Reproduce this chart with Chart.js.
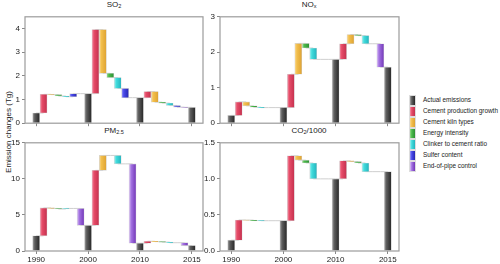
<!DOCTYPE html>
<html>
<head>
<meta charset="utf-8">
<script src="https://cdn.jsdelivr.net/npm/chart.js@4.4.1/dist/chart.umd.min.js"></script>
<style>
  body { margin: 0; width: 500px; height: 264px; background: #fff; position: relative; overflow: hidden;
         font-family: "Liberation Sans", Arial, sans-serif; color: #222 }
  canvas, .ttl, .ytitle, .legend { position: absolute }
  .ttl { font-size: 8px; transform: translateX(-50%); white-space: nowrap; line-height: 1 }
  .ttl sub { font-size: 5.5px; vertical-align: -1px }
  .ytitle { font-size: 8px; white-space: nowrap; transform: translate(-50%, -50%) rotate(-90deg); left: 8px; top: 132px }
  .legend { left: 409px; top: 95px; font-size: 6.4px }
  .legend .row { position: relative; height: 11px; line-height: 11px }
  .legend .sw { position: absolute; left: 0; top: 0; width: 7px; height: 11px; box-sizing: border-box; border: 0.5px solid #ddd }
  .legend .lb { position: absolute; left: 14px; top: -1px; white-space: nowrap }
</style>
</head>
<body>
<div class="ytitle">Emission changes (Tg)</div>
<div class="ttl" style="left:114px;top:1px">SO<sub>2</sub></div>
<div class="ttl" style="left:309px;top:1px">NO<sub>x</sub></div>
<div class="ttl" style="left:114px;top:127px">PM<sub>2.5</sub></div>
<div class="ttl" style="left:309px;top:127px">CO<sub>2</sub>/1000</div>
<div class="legend" id="legend"></div>

<canvas id="so2"></canvas>
<canvas id="nox"></canvas>
<canvas id="pm"></canvas>
<canvas id="co2"></canvas>

<script>
// tick labels on the x axis
const years = ['1990', '2000', '2010', '2015']
const legendNames = ['Actual emissions', 'Cement production growth', 'Cement kiln types', 'Energy intensity',
  'Clinker to cement ratio', 'Sulfer content', 'End-of-pipe control']

// actual emissions at each year, and change from each factor for 1990-2000, 2000-2010, 2010-2015
// factor order: production, kiln types, energy intensity, clinker ratio, sulfur, end-of-pipe
const so2Actual = [0.43, 1.25, 1.08, 0.67]
const so2Change = [
  [0.79, -0.01, -0.06, -0.03, 0.13, 0],
  [2.71, -1.85, -0.18, -0.46, -0.39, 0],
  [0.26, -0.45, -0.04, -0.10, -0.07, -0.01],
]
const noxActual = [0.22, 0.44, 1.80, 1.58]
const noxChange = [
  [0.38, -0.11, -0.04, -0.01, 0, 0],
  [0.94, 0.87, -0.13, -0.32, 0, 0],
  [0.44, 0.26, -0.03, -0.23, 0, -0.66],
]
const pmActual = [2.10, 3.55, 1.08, 0.75]
const pmChange = [
  [3.87, -0.07, -0.08, 0.08, 0, -2.35],
  [7.63, 2.07, 0, -1.17, 0, -11.00],
  [0.27, -0.05, -0.07, -0.08, 0, -0.40],
]
const co2Actual = [0.15, 0.42, 1.00, 1.10]
const co2Change = [
  [0.28, -0.002, -0.006, -0.002, 0, 0],
  [0.90, -0.06, -0.04, -0.22, 0, 0],
  [0.25, -0.01, -0.02, -0.12, 0, 0],
]

// light / mid / dark for the cylinder shading
const palette = [
  ['#a4a4a4', '#5e5e5e', '#262626'],
  ['#f394a8', '#e64c68', '#c4304e'],
  ['#f9d894', '#f2bf4c', '#dea232'],
  ['#98dc8a', '#4cba4c', '#2c9032'],
  ['#a4f0f0', '#42dcdc', '#22b4be'],
  ['#9c9cf6', '#4a4aea', '#2626b2'],
  ['#dcc4f6', '#a474e2', '#7236b8'],
]

const FONT = { family: '"Liberation Sans", Arial, sans-serif', size: 8 }

document.getElementById('legend').innerHTML = legendNames.map((n, i) => `
  <div class="row"><div class="sw" style="background:linear-gradient(to right, ${palette[i][0]}, ${palette[i][1]} 35%, ${palette[i][2]})"></div>
  <div class="lb">${n}</div></div>`).join('')

function build(actual, change) {
  const labels = [''], bars = [null], kind = [null], level = [null]
  actual.forEach((a, p) => {
    labels.push(years[p]); bars.push([0, a]); kind.push(0); level.push(a)
    if (p < change.length) {
      let v = a
      change[p].forEach((d, f) => {
        const nv = v + d
        labels.push(''); bars.push([v, nv]); kind.push(f + 1); level.push(nv)
        v = nv
      })
    }
  })
  labels.push(''); bars.push(null); kind.push(null); level.push(null)
  return { labels, bars, kind, level }
}

const frame = {
  id: 'frame',
  afterDraw(chart) {
    const { ctx, chartArea: a } = chart
    ctx.save()
    ctx.strokeStyle = '#9c9c9c'
    ctx.lineWidth = 1.2
    ctx.strokeRect(a.left, a.top, a.right - a.left, a.bottom - a.top)
    ctx.restore()
  },
}

// horizontal gradient on each bar, once the bars know where they are
const shading = {
  id: 'shading',
  beforeDatasetsDraw(chart) {
    const kind = chart.$kind
    chart.getSortedVisibleDatasetMetas().forEach(meta => {
      if (meta.type !== 'bar') return
      meta.data.forEach((el, i) => {
        const k = kind[i]
        if (k == null || !el.options) return
        const col = palette[k]
        const g = chart.ctx.createLinearGradient(el.x - el.width / 2, 0, el.x + el.width / 2, 0)
        g.addColorStop(0, col[0])
        g.addColorStop(0.3, col[1])
        g.addColorStop(1, col[2])
        el.options.backgroundColor = g
      })
    })
  },
}

function panel(id, box, actual, change, yMax, step, showYears, fmt) {
  const d = build(actual, change)
  const xH = showYears ? 16 : 6
  const el = document.getElementById(id)
  el.style.left = (box.l - 24) + 'px'
  el.style.top = (box.t - 3) + 'px'
  el.width = box.r - box.l + 27
  el.height = box.b - box.t + 3 + xH
  const thick = (box.r - box.l) / d.labels.length * 0.95

  const chart = new Chart(el, {
    data: {
      labels: d.labels,
      datasets: [
        {
          type: 'bar', data: d.bars, order: 1,
          backgroundColor: c => d.kind[c.dataIndex] == null ? 'rgba(0,0,0,0)' : palette[d.kind[c.dataIndex]][1],
          borderColor: '#d4d4d4', borderWidth: 0.6, borderSkipped: false,
          barThickness: thick,
        },
        {
          // connectors: flat at the running level, then up/down inside the next bar
          type: 'line', data: d.level, order: 2, stepped: 'before', fill: false,
          borderColor: '#cfcfcf', borderWidth: 1, pointRadius: 0, spanGaps: false,
        },
      ],
    },
    options: {
      responsive: false,
      animation: false,
      devicePixelRatio: 1,
      layout: { padding: { top: 3, right: 3, left: 0, bottom: 0 } },
      plugins: { legend: { display: false }, tooltip: { enabled: false } },
      scales: {
        x: {
          type: 'category', offset: true,
          afterFit: s => { s.height = xH },
          border: { display: false },
          grid: {
            offset: false, drawOnChartArea: false, tickLength: 3,
            tickColor: c => d.labels[c.index] ? '#888' : 'rgba(0,0,0,0)',
          },
          ticks: { display: showYears, autoSkip: false, maxRotation: 0, padding: 1, color: '#222', font: FONT },
        },
        y: {
          min: 0, max: yMax,
          afterFit: s => { s.width = 24 },
          border: { display: false },
          grid: { drawOnChartArea: false, tickLength: 3, tickColor: '#888' },
          ticks: { stepSize: step, includeBounds: false, padding: 2, color: '#222', font: FONT,
                   callback: v => fmt ? v.toFixed(1) : v },
        },
      },
    },
    plugins: [{ id: 'kind', beforeInit: c => { c.$kind = d.kind } }, shading, frame],
  })
  chart.draw()
}

panel('so2', { l: 25, t: 13, r: 203, b: 124 }, so2Actual, so2Change, 4.5, 1, false)
panel('nox', { l: 220, t: 13, r: 399, b: 124 }, noxActual, noxChange, 3, 1, false)
panel('pm', { l: 25, t: 139, r: 203, b: 251 }, pmActual, pmChange, 15, 5, true)
panel('co2', { l: 220, t: 139, r: 399, b: 251 }, co2Actual, co2Change, 1.5, 0.5, true, true)
</script>
</body>
</html>
